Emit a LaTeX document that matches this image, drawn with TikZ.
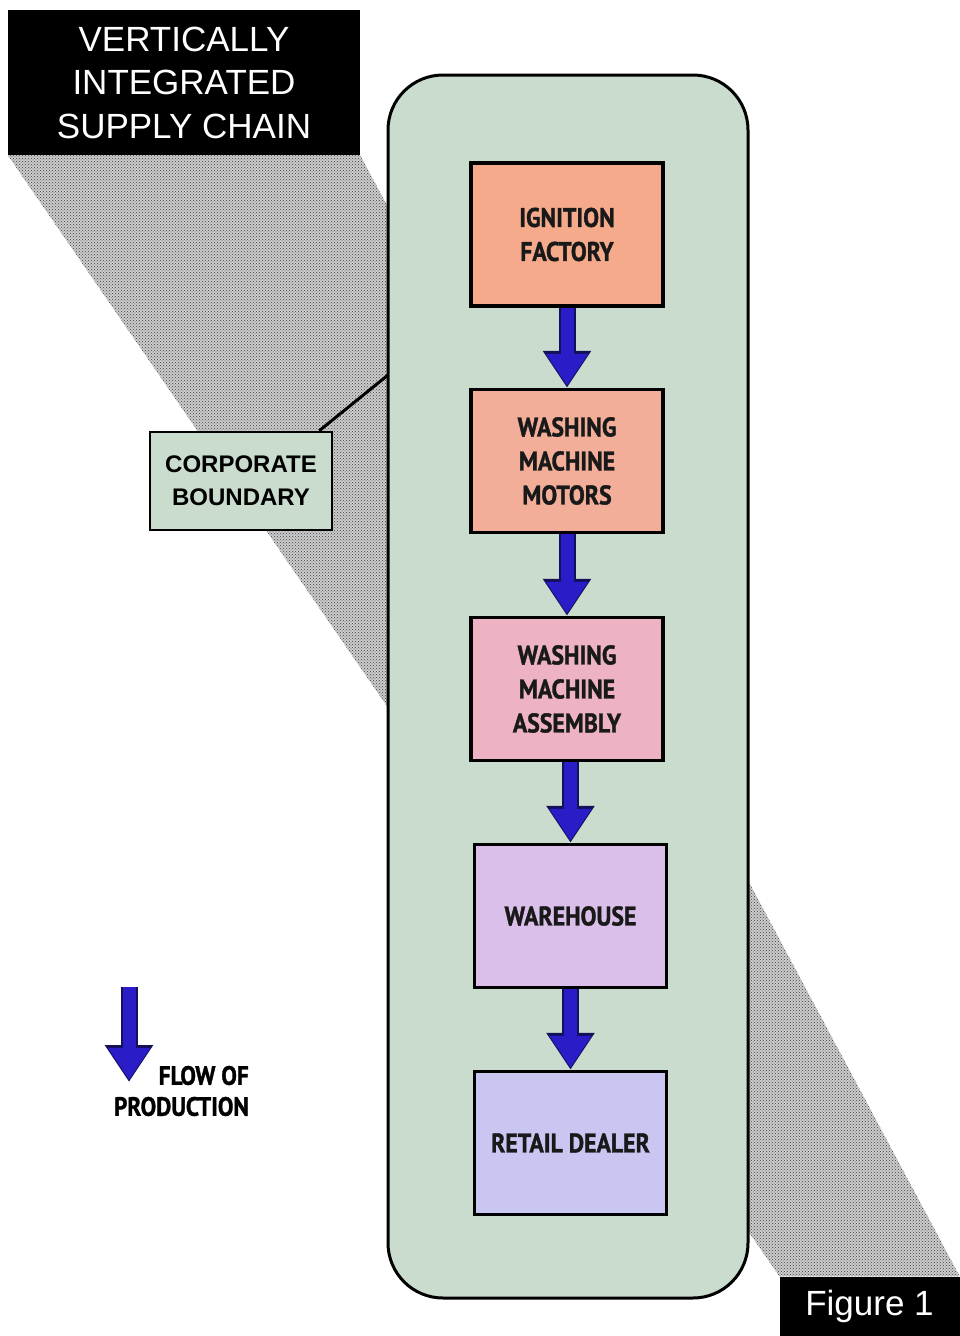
\documentclass[tikz,border=0pt]{standalone}
\usepackage{fontspec}
\setmainfont{Liberation Sans}
\newfontfamily\boxfont[FakeStretch=0.88, BoldFeatures={FakeBold=1.2}]{PT Sans}
\usetikzlibrary{patterns,arrows.meta,calc,backgrounds}
\definecolor{corpgreen}{HTML}{C9DCCD}
\definecolor{cignition}{HTML}{F5AA8C}
\definecolor{cmotors}{HTML}{F2AE98}
\definecolor{cassembly}{HTML}{EDB3C2}
\definecolor{cwarehouse}{HTML}{D9BFEA}
\definecolor{cretail}{HTML}{C9C6F2}
\definecolor{flowblue}{HTML}{2A1CC6}
\definecolor{flowedge}{HTML}{14105A}
\tikzset{
  stage/.style={draw=black, line width=3.5pt, minimum width=192pt, minimum height=143pt,
    inner sep=0pt, align=center, font=\boxfont\bfseries\fontsize{27}{34}\selectfont, text=black!90},
  blackbox/.style={fill=black, text=white, inner sep=0pt, align=center,
    font=\fontsize{35}{43.5}\selectfont},
  flowout/.style={line width=17pt, draw=flowedge, -{Triangle[width=46pt,length=37pt]}},
  flowin/.style={line width=13pt, draw=flowblue, shorten >=2pt, -{Triangle[width=40pt,length=32pt]}},
}
\newcommand{\flowarrow}[2]{%
  \draw[flowout] (#1) -- (#2);
  \draw[flowin] (#1) -- (#2);}
\begin{document}
\begin{tikzpicture}[x=1pt,y=-1pt]
\useasboundingbox (0,0) rectangle (959,1336);

% title and figure label
\node[blackbox, minimum width=352pt, minimum height=145pt] (title) at (184,82.5)
  {VERTICALLY\\INTEGRATED\\SUPPLY CHAIN};
\node[blackbox, minimum width=180pt, minimum height=60pt] (fig) at (869.5,1306.5) {Figure 1};

% corporate boundary
\node[draw=black, line width=3pt, rounded corners=55pt, fill=corpgreen,
  minimum width=360pt, minimum height=1223pt] (corp) at (568,686.5) {};

% stages
\node[stage, fill=cignition] (s1) at (567,234.5) {IGNITION\\FACTORY};
\node[stage, fill=cmotors] (s2) at (567,461) {WASHING\\MACHINE\\MOTORS};
\node[stage, fill=cassembly] (s3) at (567,689) {WASHING\\MACHINE\\ASSEMBLY};
\node[stage, fill=cwarehouse] (s4) at (570.5,916) {WAREHOUSE};
\node[stage, fill=cretail] (s5) at (570.5,1143) {RETAIL DEALER};

\flowarrow{s1.south}{s2.north}
\flowarrow{s2.south}{s3.north}
\flowarrow{s3.south -| s4.north}{s4.north}
\flowarrow{s4.south}{s5.north}

% corporate boundary label
\node[draw=black, line width=2.5pt, fill=corpgreen, minimum width=182pt, minimum height=98pt,
  align=center, font=\bfseries\fontsize{24}{33}\selectfont] (cb) at (241,481)
  {CORPORATE\\BOUNDARY};
\coordinate (cbpt) at (388,375);
\draw[line width=3pt] ($(cb.north east)+(-14,0)$) -- (cbpt);

% legend
\coordinate (lgtop) at (129,987);
\coordinate (lgbot) at (129,1082);
\flowarrow{lgtop}{lgbot}
\node[anchor=east, align=right, inner sep=0pt, font=\boxfont\bfseries\fontsize{26.5}{31}\selectfont]
  (lg) at (249,1091) {FLOW OF\\PRODUCTION};

% shadow behind
\begin{pgfonlayer}{background}
\fill[white] (0,0) rectangle (959,1336);
\fill[black!20] (title.south west) -- (title.south east) -- (fig.north east) -- (fig.north west) -- cycle;
\fill[pattern=crosshatch dots, pattern color=black!75] (title.south west) -- (title.south east) -- (fig.north east) -- (fig.north west) -- cycle;
\end{pgfonlayer}
\end{tikzpicture}
\end{document}
